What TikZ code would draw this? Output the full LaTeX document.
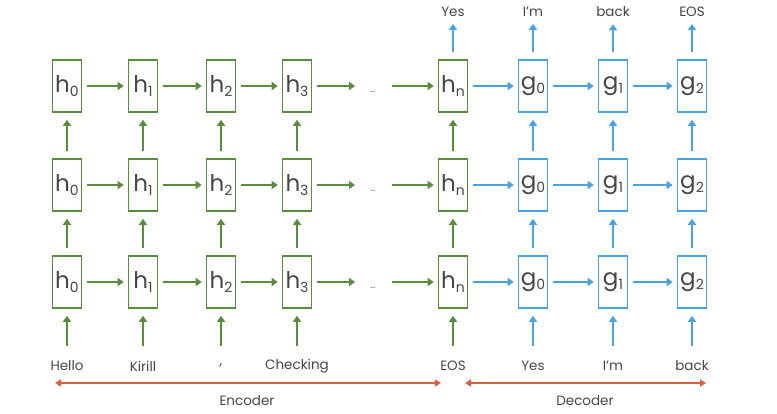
\documentclass[tikz,border=0pt]{standalone}
\usepackage{fontspec}
\setmainfont{Poppins}
\usetikzlibrary{arrows.meta}
\definecolor{enc}{RGB}{90,140,62}
\definecolor{dec}{RGB}{74,163,222}
\definecolor{redc}{RGB}{214,96,64}
\definecolor{txt}{RGB}{70,70,70}
\newcommand{\cellsub}[2]{#1\raisebox{-4pt}{\fontsize{14}{14}\selectfont #2}}
\begin{document}
\begin{tikzpicture}[x=1pt,y=-1pt,
  cellbox/.style={draw=#1,line width=1.6pt,minimum width=29pt,minimum height=52pt,inner sep=0pt,
     font=\fontsize{23}{23}\selectfont,text=txt},
  arr/.style={draw=#1,line width=2.4pt,-{Triangle[length=6pt,width=8pt]}},
  lbl/.style={font=\fontsize{13.5}{13.5}\selectfont,text=txt,inner sep=0pt},
  dots/.style={font=\fontsize{8}{8}\selectfont,text=txt,inner sep=0pt},
  redarr/.style={draw=redc,line width=2pt,{Triangle[length=6pt,width=7pt]}-{Triangle[length=6pt,width=7pt]}}
]
\useasboundingbox (0,0) rectangle (777,413);
% rows
\foreach \r/\y in {1/86,2/185,3/282}{
  \node[cellbox=enc] (h0\r) at (67,\y) {\cellsub{h}{0}};
  \node[cellbox=enc] (h1\r) at (143,\y) {\cellsub{h}{1}};
  \node[cellbox=enc] (h2\r) at (221,\y) {\cellsub{h}{2}};
  \node[cellbox=enc] (h3\r) at (297,\y) {\cellsub{h}{3}};
  \node[dots] (d\r) at (373,\y+6) {...};
  \coordinate (dl\r) at (355,\y);
  \coordinate (dr\r) at (392,\y);
  \node[cellbox=enc] (hn\r) at (453,\y) {\cellsub{h}{n}};
  \node[cellbox=dec] (g0\r) at (533,\y) {\cellsub{g}{0}};
  \node[cellbox=dec] (g1\r) at (613,\y) {\cellsub{g}{1}};
  \node[cellbox=dec] (g2\r) at (692,\y) {\cellsub{g}{2}};
  \draw[arr=enc] ([xshift=5pt]h0\r.east) -- ([xshift=-4pt]h1\r.west);
  \draw[arr=enc] ([xshift=5pt]h1\r.east) -- ([xshift=-4pt]h2\r.west);
  \draw[arr=enc] ([xshift=5pt]h2\r.east) -- ([xshift=-4pt]h3\r.west);
  \draw[arr=enc] ([xshift=5pt]h3\r.east) -- (dl\r);
  \draw[arr=enc] (dr\r) -- ([xshift=-4pt]hn\r.west);
  \draw[arr=dec] ([xshift=5pt]hn\r.east) -- ([xshift=-4pt]g0\r.west);
  \draw[arr=dec] ([xshift=5pt]g0\r.east) -- ([xshift=-4pt]g1\r.west);
  \draw[arr=dec] ([xshift=5pt]g1\r.east) -- ([xshift=-4pt]g2\r.west);
}
% vertical arrows between rows
\foreach \n/\c in {h0/enc,h1/enc,h2/enc,h3/enc,hn/enc,g0/dec,g1/dec,g2/dec}{
  \draw[arr=\c] ([yshift=7pt]\n3.north) -- ([yshift=-7pt]\n2.south);
  \draw[arr=\c] ([yshift=7pt]\n2.north) -- ([yshift=-7pt]\n1.south);
}
% outputs
\node[lbl] (oy) at (453,12) {Yes};
\node[lbl] (oi) at (533,12) {I’m};
\node[lbl] (ob) at (613,12) {back};
\node[lbl] (oe) at (692,12) {EOS};
\foreach \n/\o in {hn/oy,g0/oi,g1/ob,g2/oe}{
  \draw[arr=dec] ([yshift=7pt]\n1.north) -- ([yshift=-7pt]\o.south);
}
% inputs
\node[lbl] (iH) at (67,366) {Hello};
\node[lbl] (iK) at (143,366) {Kirill};
\node[lbl] (iC) at (221,366) {,};
\node[lbl] (iCh) at (297,366) {Checking};
\node[lbl] (iE) at (453,366) {EOS};
\node[lbl] (iY) at (533,366) {Yes};
\node[lbl] (iI) at (613,366) {I’m};
\node[lbl] (iB) at (692,366) {back};
\foreach \n/\i/\c in {h0/iH/enc,h1/iK/enc,h2/iC/enc,h3/iCh/enc,hn/iE/enc,g0/iY/dec,g1/iI/dec,g2/iB/dec}{
  \draw[arr=\c] (\n3.south |- 0,346) -- ([yshift=-7pt]\n3.south);
}
% encoder / decoder spans
\coordinate (eL) at (55,383);
\coordinate (eR) at (441,383);
\coordinate (dL) at (465,383);
\coordinate (dR) at (706,383);
\draw[redarr] (eL) -- (eR);
\draw[redarr] (dL) -- (dR);
\node[lbl] (encl) at (247,401) {Encoder};
\node[lbl] (decl) at (585,401) {Decoder};
\end{tikzpicture}
\end{document}
